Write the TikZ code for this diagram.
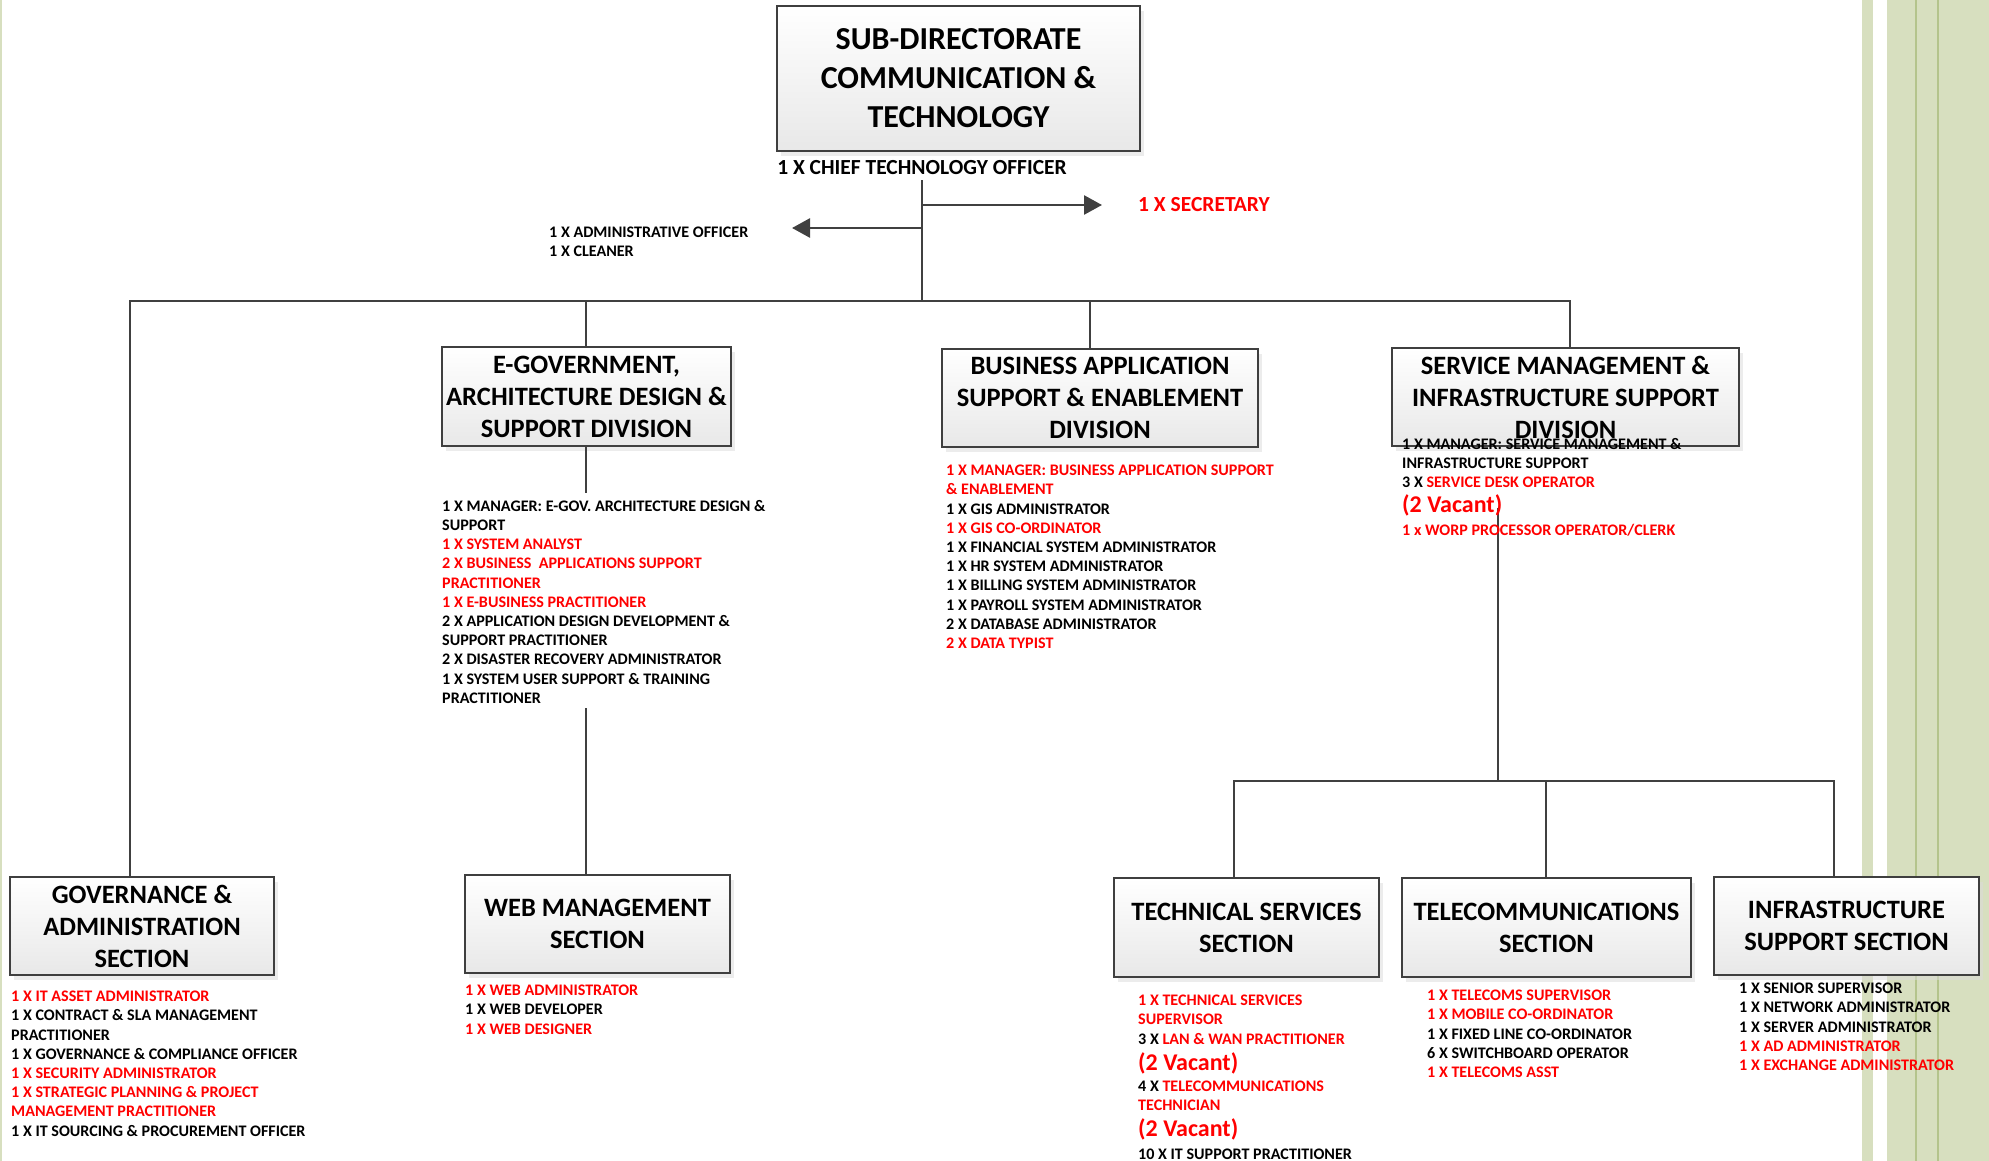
\documentclass[tikz,border=0pt]{standalone}
\usepackage{fontspec}
\setmainfont{Carlito}
\usetikzlibrary{arrows.meta,shadows}
\definecolor{boxline}{HTML}{3F3F3F}
\definecolor{connc}{HTML}{404040}
\definecolor{stripe}{HTML}{D7DFBF}
\definecolor{stripedark}{HTML}{B4C48C}
\definecolor{txtred}{HTML}{FF0000}
\newcommand\redtxt[1]{\textcolor{txtred}{#1}}
\tikzset{
  unitbox/.style={draw=boxline, line width=2.6pt, top color=white, bottom color=black!9,
    drop shadow={shadow xshift=4pt, shadow yshift=-5pt, fill=black!14},
    inner sep=0pt, align=center, font=\bfseries\fontsize{26.5}{32}\selectfont},
  conn/.style={draw=connc, line width=2.7pt},
  arrowline/.style={conn, -{Triangle[length=18pt,width=19pt]}},
  lst/.style={anchor=north west, inner sep=0pt, align=left, font=\bfseries\fontsize{16.1}{19.2}\selectfont},
  vac/.style={anchor=west, inner sep=0pt, text=txtred, font=\bfseries\fontsize{24}{28}\selectfont}
}
\begin{document}
\begin{tikzpicture}[x=1pt,y=-1pt]
\useasboundingbox (0,0) rectangle (1989,1161);
\fill[white] (0,0) rectangle (1989,1161);
% decorative stripes
\fill[stripe] (1862,0) rectangle (1873,1161);
\fill[stripe] (1887,0) rectangle (1989,1161);
\draw[stripedark, line width=1.6pt] (1916,0) -- (1916,1161);
\draw[stripedark, line width=1.6pt] (1938,0) -- (1938,1161);
\draw[stripe, line width=1.5pt] (0.75,0) -- (0.75,1161);

% boxes
\node[unitbox, minimum width=363pt, minimum height=145pt, font=\bfseries\fontsize{32}{39}\selectfont] (top) at (958.5,78.5) {SUB-DIRECTORATE\\COMMUNICATION \&\\TECHNOLOGY};
\node[unitbox, minimum width=289pt, minimum height=99pt] (egov) at (586.5,396.5) {E-GOVERNMENT,\\ARCHITECTURE DESIGN \&\\SUPPORT DIVISION};
\node[unitbox, minimum width=316pt, minimum height=98pt] (busi) at (1100,398) {BUSINESS APPLICATION\\SUPPORT \& ENABLEMENT\\DIVISION};
\node[unitbox, minimum width=347pt, minimum height=98pt] (serv) at (1565.5,397) {SERVICE MANAGEMENT \&\\INFRASTRUCTURE SUPPORT\\DIVISION};
\node[unitbox, minimum width=264pt, minimum height=98pt] (gov) at (142,926) {GOVERNANCE \&\\ADMINISTRATION\\SECTION};
\node[unitbox, minimum width=265pt, minimum height=98pt] (web) at (597.5,924) {WEB MANAGEMENT\\SECTION};
\node[unitbox, minimum width=265pt, minimum height=99pt] (tech) at (1246.5,927.5) {TECHNICAL SERVICES\\SECTION};
\node[unitbox, minimum width=289pt, minimum height=99pt] (tele) at (1546.5,927.5) {TELECOMMUNICATIONS\\SECTION};
\node[unitbox, minimum width=265pt, minimum height=98pt] (infra) at (1846.5,926) {INFRASTRUCTURE\\SUPPORT SECTION};

% top labels
\node[inner sep=5pt, font=\bfseries\fontsize{21.5}{25}\selectfont] (cto) at (922,168) {1 X CHIEF TECHNOLOGY OFFICER};
\node[anchor=west, inner sep=0pt, text=txtred, font=\bfseries\fontsize{21.5}{25}\selectfont] (sec) at (1138,205) {1 X SECRETARY};
\node[lst] (adm) at (549,227) {1 X ADMINISTRATIVE OFFICER\\1 X CLEANER};

% coordinates of connector corners
\coordinate (hub) at (922,301);
\coordinate (secfrom) at (922,205);
\coordinate (sectip) at (1102,205);
\coordinate (admfrom) at (922,228);
\coordinate (admtip) at (792,228);
\coordinate (jgov) at (130,301);
\coordinate (jegov) at (586,301);
\coordinate (jbusi) at (1090,301);
\coordinate (jserv) at (1570,301);
\coordinate (egovend) at (586,493);
\coordinate (webstart) at (586,708);
\coordinate (servstart) at (1498,508);
\coordinate (lowhub) at (1498,781);
\coordinate (jtech) at (1234,781);
\coordinate (jtele) at (1546,781);
\coordinate (jinfra) at (1834,781);

% connectors
\draw[conn] (cto.south) -- (hub);
\draw[arrowline] (secfrom) -- (sectip);
\draw[arrowline] (admfrom) -- (admtip);
\draw[conn] (jgov |- gov.north) -- (jgov) -- (jserv) -- (jserv |- serv.north);
\draw[conn] (jegov) -- (jegov |- egov.north);
\draw[conn] (jbusi) -- (jbusi |- busi.north);
\draw[conn] (egovend |- egov.south) -- (egovend);
\draw[conn] (webstart) -- (webstart |- web.north);
\draw[conn] (servstart) -- (lowhub);
\draw[conn] (jtech |- tech.north) -- (jtech) -- (jinfra) -- (jinfra |- infra.north);
\draw[conn] (jtele) -- (jtele |- tele.north);

% staff lists
\node[lst] (egovlist) at (442,500) {1 X MANAGER: E-GOV. ARCHITECTURE DESIGN \&\\SUPPORT\\
\redtxt{1 X SYSTEM ANALYST}\\\redtxt{2 X BUSINESS\ \ APPLICATIONS SUPPORT}\\\redtxt{PRACTITIONER}\\
\redtxt{1 X E-BUSINESS PRACTITIONER}\\2 X APPLICATION DESIGN DEVELOPMENT \&\\SUPPORT PRACTITIONER\\
2 X DISASTER RECOVERY ADMINISTRATOR\\1 X SYSTEM USER SUPPORT \& TRAINING\\PRACTITIONER};

\node[lst] (busilist) at (946,465) {\redtxt{1 X MANAGER: BUSINESS APPLICATION SUPPORT}\\\redtxt{\& ENABLEMENT}\\
1 X GIS ADMINISTRATOR\\\redtxt{1 X GIS CO-ORDINATOR}\\1 X FINANCIAL SYSTEM ADMINISTRATOR\\
1 X HR SYSTEM ADMINISTRATOR\\1 X BILLING SYSTEM ADMINISTRATOR\\1 X PAYROLL SYSTEM ADMINISTRATOR\\
2 X DATABASE ADMINISTRATOR\\\redtxt{2 X DATA TYPIST}};

\node[lst] (servlist) at (1402,438) {1 X MANAGER: SERVICE MANAGEMENT \&\\INFRASTRUCTURE SUPPORT\\3 X \redtxt{SERVICE DESK OPERATOR}};
\node[vac] (servvac) at (1402,505) {(2 Vacant)};
\node[lst, text=txtred] (servclerk) at (1402,524) {1 x WORP PROCESSOR OPERATOR/CLERK};

\node[lst] (govlist) at (11,991) {\redtxt{1 X IT ASSET ADMINISTRATOR}\\1 X CONTRACT \& SLA MANAGEMENT\\PRACTITIONER\\
1 X GOVERNANCE \& COMPLIANCE OFFICER\\\redtxt{1 X SECURITY ADMINISTRATOR}\\\redtxt{1 X STRATEGIC PLANNING \& PROJECT}\\
\redtxt{MANAGEMENT PRACTITIONER}\\1 X IT SOURCING \& PROCUREMENT OFFICER};

\node[lst] (weblist) at (465,985) {\redtxt{1 X WEB ADMINISTRATOR}\\1 X WEB DEVELOPER\\\redtxt{1 X WEB DESIGNER}};

\node[lst] (techa) at (1138,995) {\redtxt{1 X TECHNICAL SERVICES}\\\redtxt{SUPERVISOR}\\3 X \redtxt{LAN \& WAN PRACTITIONER}};
\node[vac] (techv1) at (1138,1063) {(2 Vacant)};
\node[lst] (techb) at (1138,1081) {4 X \redtxt{TELECOMMUNICATIONS}\\\redtxt{TECHNICIAN}};
\node[vac] (techv2) at (1138,1129) {(2 Vacant)};
\node[lst] (techc) at (1138,1149) {10 X IT SUPPORT PRACTITIONER};

\node[lst] (telelist) at (1427,990) {\redtxt{1 X TELECOMS SUPERVISOR}\\\redtxt{1 X MOBILE CO-ORDINATOR}\\1 X FIXED LINE CO-ORDINATOR\\
6 X SWITCHBOARD OPERATOR\\\redtxt{1 X TELECOMS ASST}};

\node[lst] (infralist) at (1739,983) {1 X SENIOR SUPERVISOR\\1 X NETWORK ADMINISTRATOR\\1 X SERVER ADMINISTRATOR\\
\redtxt{1 X AD ADMINISTRATOR}\\\redtxt{1 X EXCHANGE ADMINISTRATOR}};
\end{tikzpicture}
\end{document}
